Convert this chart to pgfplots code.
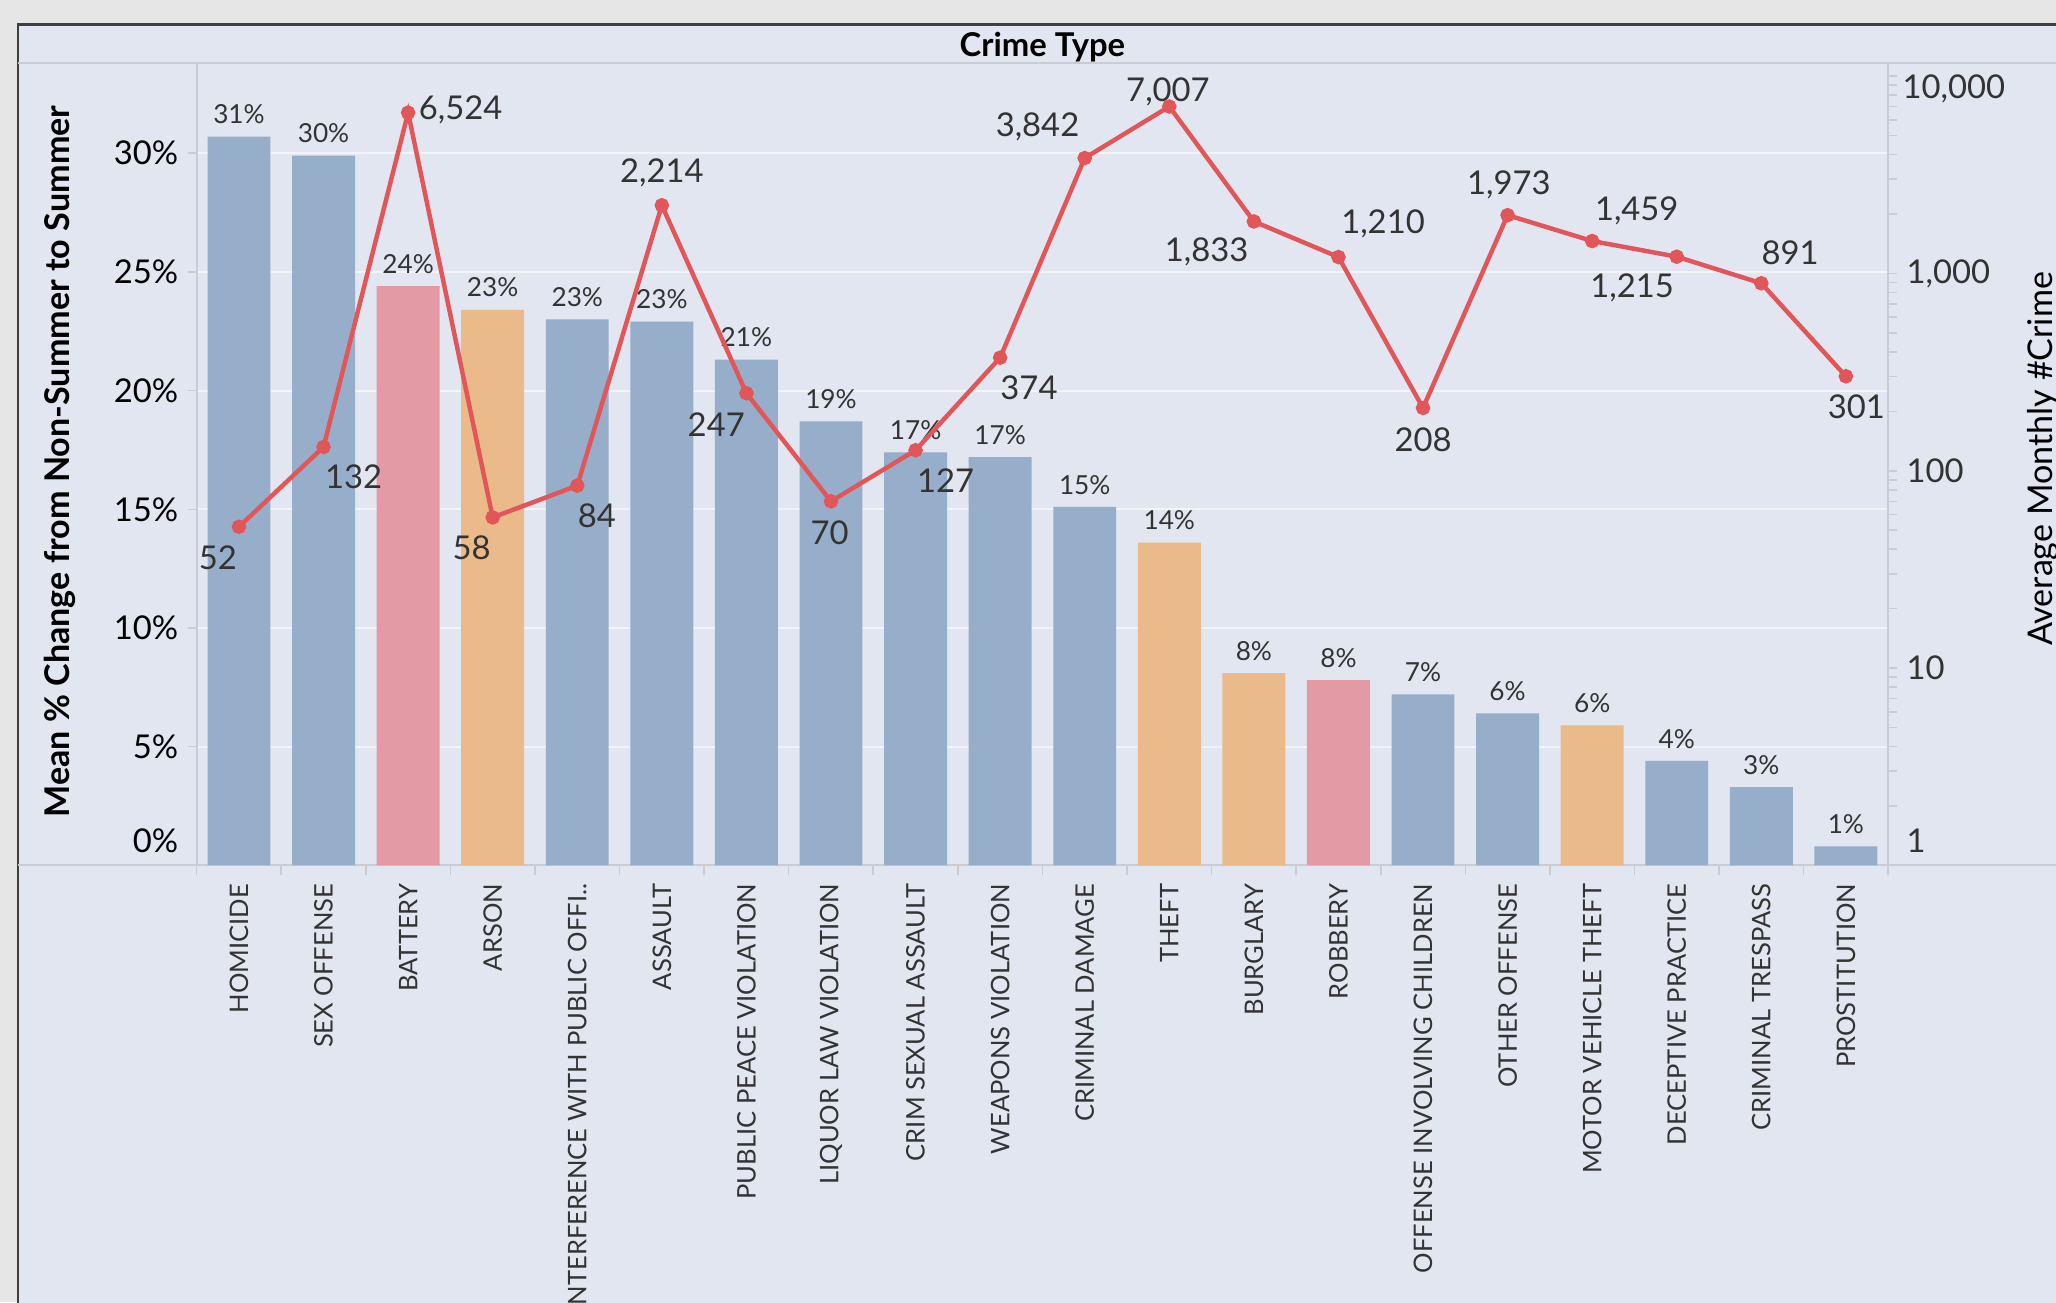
\documentclass[border=0pt]{standalone}
\usepackage{fontspec}
\setmainfont{Lato}
\usepackage{pgfplots}
\pgfplotsset{compat=1.18}
\usepackage{pgfplotstable}

\definecolor{outerbg}{HTML}{E6E6E6}
\definecolor{panel}{HTML}{E1E6F0}
\definecolor{framec}{HTML}{3F3F3F}
\definecolor{axisgray}{HTML}{C9CCD3}
\definecolor{gridc}{HTML}{F2F4F8}
\definecolor{barblue}{HTML}{97AECB}
\definecolor{barpink}{HTML}{E49AA4}
\definecolor{barorange}{HTML}{EBBA8A}
\definecolor{linered}{HTML}{E15759}
\definecolor{txt}{HTML}{333333}

% mean % change, one table per bar colour
\pgfplotstableread{
x pct
0 30.7
1 29.9
4 23.0
5 22.9
6 21.3
7 18.7
8 17.4
9 17.2
10 15.1
14 7.2
15 6.4
17 4.4
18 3.3
19 0.8
}\bluebars
\pgfplotstableread{
x pct
2 24.4
13 7.8
}\pinkbars
\pgfplotstableread{
x pct
3 23.4
11 13.6
12 8.1
16 5.9
}\orangebars

% average monthly crimes, label offsets in px (dx right, ny up)
\pgfplotstableread{
x crimes lab dx ny
0 52 52 -16 -24
1 132 132 23 -23
2 6524 6,524 40 2
3 58 58 -16 -23
4 84 84 15 -23
5 2214 2,214 0 25
6 247 247 -23 -24
7 70 70 -1 -24
8 127 127 23 -23
9 374 374 22 -23
10 3842 3,842 -36 24
11 7007 7,007 -1 11
12 1833 1,833 -36 -23
13 1210 1,210 34 25
14 208 208 0 -24
15 1973 1,973 1 23
16 1459 1,459 34 23
17 1215 1,215 -34 -24
18 891 891 22 23
19 301 301 8 -23
}\linedata

\pgfplotsset{
  common/.style={
    at={(75pt,166.5pt)}, anchor=south west, scale only axis,
    width=645pt, height=306pt,
    xmin=-0.5, xmax=19.5, enlargelimits=false,
    axis line style={axisgray, line width=0.7pt},
    tick style={axisgray, line width=0.6pt},
    tick align=outside, major tick length=3.5pt, minor tick length=3.5pt,
    /pgf/number format/assume math mode=true,
  },
}

\begin{document}
\begin{tikzpicture}[x=0.5pt,y=0.5pt]
\useasboundingbox (0,0) rectangle (1568,993);
\clip (0,0) rectangle (1568,993);
\fill[outerbg] (0,0) rectangle (1568,993);
\filldraw[fill=panel, draw=framec, line width=0.9pt] (13.6,-20) rectangle (1620,974.4);
\draw[axisgray, line width=0.7pt] (13.6,945) -- (1620,945);
\draw[axisgray, line width=0.7pt] (13.6,333) -- (1620,333);

\begin{axis}[common,
  ybar, bar width=0.744,
  ymin=0, ymax=33.8,
  xtick={0,...,19},
  xticklabels={HOMICIDE, SEX OFFENSE, BATTERY, ARSON, INTERFERENCE WITH PUBLIC OFFI.., ASSAULT, PUBLIC PEACE VIOLATION, LIQUOR LAW VIOLATION, CRIM SEXUAL ASSAULT, WEAPONS VIOLATION, CRIMINAL DAMAGE, THEFT, BURGLARY, ROBBERY, OFFENSE INVOLVING CHILDREN, OTHER OFFENSE, MOTOR VEHICLE THEFT, DECEPTIVE PRACTICE, CRIMINAL TRESPASS, PROSTITUTION},
  major x tick style={draw=none},
  minor xtick={-0.5,0.5,...,19.5},
  xtick pos=bottom, ytick pos=left,
  xticklabel style={rotate=90, anchor=east, font=\fontsize{9.75}{10}\selectfont, text=txt},
  ytick={5,10,...,30},
  yticklabel={\pgfmathprintnumber{\tick}\%},
  yticklabel style={font=\fontsize{12.5}{13}\selectfont, text=black},
  extra y ticks={0}, extra y tick labels={0\%},
  extra y tick style={yticklabel style={yshift=9.5pt}, grid=none},
  ymajorgrids, grid style={gridc, line width=0.8pt},
  nodes near coords={\pgfmathprintnumber[fixed,precision=0]{\pgfplotspointmeta}\%},
  every node near coord/.append style={anchor=center, yshift=8.5pt,
    font=\fontsize{10}{11}\selectfont, text=txt},
]
\addplot[fill=barblue, draw=none, bar shift=0pt] table[x=x, y=pct] {\bluebars};
\addplot[fill=barpink, draw=none, bar shift=0pt] table[x=x, y=pct] {\pinkbars};
\addplot[fill=barorange, draw=none, bar shift=0pt] table[x=x, y=pct] {\orangebars};
\end{axis}

\begin{axis}[common,
  ymode=log, ymin=1, ymax=11650,
  hide x axis, axis y line*=right,
  ytick={10,100,1000}, yticklabels={10,100,{1,000}},
  minor ytick={2,3,4,5,6,7,8,9,20,30,40,50,60,70,80,90,200,300,400,500,600,700,800,900,2000,3000,4000,5000,6000,7000,8000,9000,10000},
  extra y ticks={1}, extra y tick labels={1},
  extra y tick style={yticklabel style={yshift=9.5pt}},
  yticklabel style={anchor=west, font=\fontsize{12.5}{13}\selectfont, text=txt},
  clip=false,
]
\addplot[linered, line width=1.7pt, mark=*, mark size=1.9pt,
  mark options={fill=linered, draw=linered},
  nodes near coords, point meta=explicit symbolic,
  visualization depends on={\thisrow{dx} \as \dx},
  visualization depends on={\thisrow{ny} \as \ny},
  every node near coord/.append style={anchor=center, xshift=\dx*0.5pt,
    yshift=\ny*0.5pt, font=\fontsize{12.5}{13}\selectfont, text=txt},
] table[x=x, y=crimes, meta=lab] {\linedata};
\node[anchor=west, font=\fontsize{12.5}{13}\selectfont, text=txt, yshift=-5pt, xshift=2pt]
  at (axis cs:19.5,10000) {10,000};
\end{axis}

\node[anchor=base, font=\bfseries\fontsize{12.5}{13}\selectfont] at (795,950) {Crime Type};
\node[rotate=90, anchor=base, font=\bfseries\fontsize{13}{14}\selectfont] at (53,641)
  {Mean \% Change from Non-Summer to Summer};
\node[rotate=90, anchor=base, font=\fontsize{13}{14}\selectfont] at (1565,643)
  {Average Monthly \#Crime};
\end{tikzpicture}
\end{document}
